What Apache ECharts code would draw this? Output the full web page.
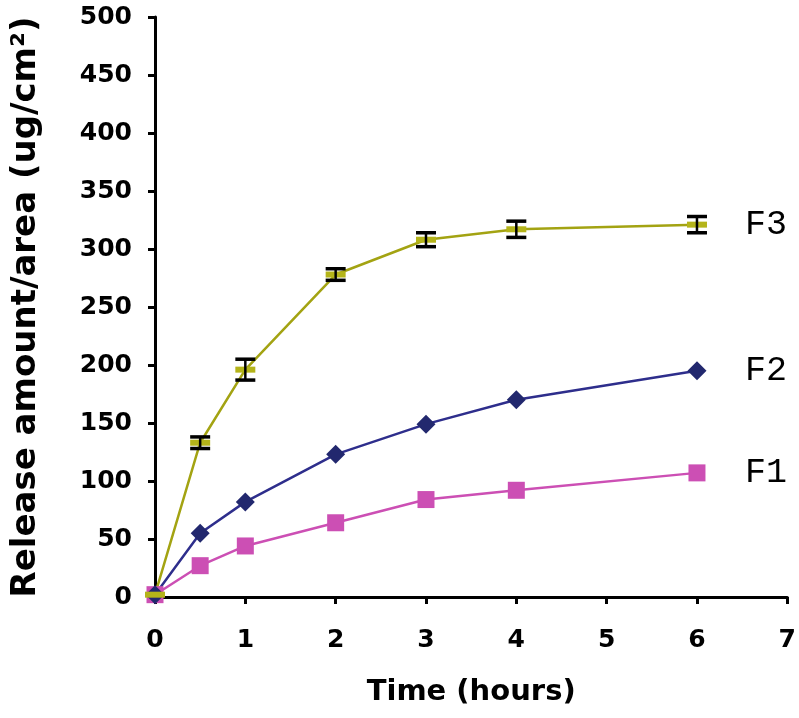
<!DOCTYPE html>
<html><head><meta charset="utf-8">
<script src="https://cdn.jsdelivr.net/npm/echarts@6/dist/echarts.min.js"></script>
<style>html,body{margin:0;padding:0;background:#fff}#c{width:799px;height:718px}</style>
</head><body><div id="c"></div>
<script>
const times = [0, 0.5, 1, 2, 3, 4, 6];
const f1 = [2, 27, 44, 64, 84, 92, 107];
const f2 = [2, 55, 82, 123, 149, 170, 195];
const f3 = [2, 133, 196, 278, 308, 317, 321];
const f3Err = [0, 5, 9, 5, 6, 7, 7];
const xTicks = [0, 1, 2, 3, 4, 5, 6, 7];
const yTicks = [0, 50, 100, 150, 200, 250, 300, 350, 400, 450, 500];

const chart = echarts.init(document.getElementById('c'), null, {renderer: 'canvas'});
const pts = arr => times.map((t, i) => [t, arr[i]]);
const errData = times.map((t, i) => [t, f3[i] - f3Err[i], f3[i] + f3Err[i]]).filter((d, i) => f3Err[i] > 0);

const labelFont = {fontFamily: 'DejaVu Sans', fontWeight: 'bold', fontSize: 25, color: '#000'};
const endLabel = {show: true, formatter: '{a}', distance: 48, fontFamily: 'Liberation Mono', fontSize: 35, color: '#000'};

chart.setOption({
  animation: false,
  backgroundColor: '#fff',
  grid: {left: 155, right: 11, top: 17, bottom: 121},
  xAxis: {
    type: 'value', min: xTicks[0], max: xTicks[xTicks.length - 1], interval: 1,
    name: 'Time (hours)', nameLocation: 'middle', nameGap: 81,
    nameTextStyle: {fontFamily: 'DejaVu Sans', fontWeight: 'bold', fontSize: 29, color: '#000'},
    axisLine: {lineStyle: {color: '#000', width: 3}},
    axisTick: {show: true, length: 7, lineStyle: {color: '#000', width: 3}},
    axisLabel: Object.assign({margin: 31}, labelFont),
    splitLine: {show: false}
  },
  yAxis: {
    type: 'value', min: yTicks[0], max: yTicks[yTicks.length - 1], interval: 50,
    name: 'Release amount/area (ug/cm²)', nameLocation: 'middle', nameGap: 112,
    nameTextStyle: {fontFamily: 'DejaVu Sans', fontWeight: 'bold', fontSize: 34, color: '#000'},
    axisLine: {show: true, lineStyle: {color: '#000', width: 3}},
    axisTick: {show: true, length: 7, lineStyle: {color: '#000', width: 3}},
    axisLabel: Object.assign({margin: 23}, labelFont),
    splitLine: {show: false}
  },
  series: [
    {
      name: 'F1', type: 'line', data: pts(f1), symbol: 'rect', symbolSize: 17,
      lineStyle: {color: '#CC4FB4', width: 2.5}, itemStyle: {color: '#CC4FB4'},
      endLabel: endLabel, z: 3
    },
    {
      name: 'F2', type: 'line', data: pts(f2), symbol: 'diamond', symbolSize: 19,
      lineStyle: {color: '#2E2E8C', width: 2.5}, itemStyle: {color: '#22286E'},
      endLabel: endLabel, z: 3
    },
    {
      name: 'F3', type: 'line', data: pts(f3), symbol: 'rect', symbolSize: [20, 6],
      lineStyle: {color: '#A3A312', width: 2.5}, itemStyle: {color: '#B4B41A'},
      endLabel: endLabel, z: 3
    },
    {
      name: 'F3err', type: 'custom', data: errData, z: 4,
      renderItem: function (params, api) {
        const x = api.value(0);
        const lo = api.coord([x, api.value(1)]);
        const hi = api.coord([x, api.value(2)]);
        const w = 10;
        const st = {stroke: '#000', lineWidth: 3.5};
        return {type: 'group', children: [
          {type: 'line', shape: {x1: hi[0], y1: hi[1], x2: lo[0], y2: lo[1]}, style: {stroke: '#000', lineWidth: 2.5}},
          {type: 'line', shape: {x1: hi[0] - w, y1: hi[1], x2: hi[0] + w, y2: hi[1]}, style: st},
          {type: 'line', shape: {x1: lo[0] - w, y1: lo[1], x2: lo[0] + w, y2: lo[1]}, style: st}
        ]};
      }
    }
  ]
});
</script></body></html>
